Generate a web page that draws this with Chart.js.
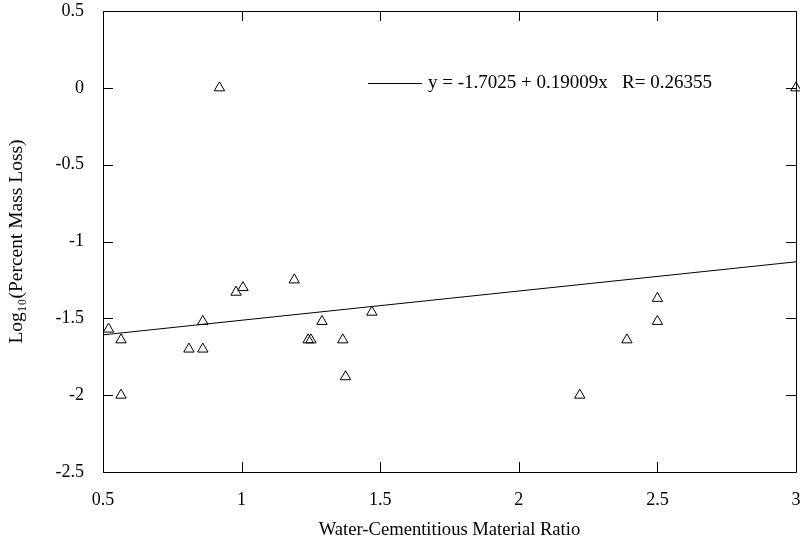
<!DOCTYPE html>
<html>
<head>
<meta charset="utf-8">
<script src="https://cdn.jsdelivr.net/npm/chart.js@4/dist/chart.umd.min.js"></script>
<style>
    html, body { margin: 0; padding: 0; background: #fff; }
    #wrap { width: 800px; height: 542px; }
</style>
</head>
<body>
<div id="wrap"><canvas id="grafico"></canvas></div>
<script>
// Dados
const ratioX = [0.52, 0.565, 0.565, 0.81, 0.86, 0.86, 0.92, 0.98, 1.005, 1.19, 1.24, 1.25, 1.29, 1.365, 1.375, 1.47, 2.22, 2.39, 2.50, 2.50, 3.0];
const logLoss = [-1.57, -1.64, -2.0, -1.70, -1.70, -1.52, 0.0, -1.33, -1.30, -1.25, -1.64, -1.64, -1.52, -1.64, -1.88, -1.46, -2.0, -1.64, -1.52, -1.37, 0.0];
const fitX = [0.5, 3.0];
const fitY = [-1.6075, -1.1322];
const xTicks = [0.5, 1, 1.5, 2, 2.5, 3];
const yTicks = [0.5, 0, -0.5, -1, -1.5, -2, -2.5];
const fitLabel = 'y = -1.7025 + 0.19009x   R= 0.26355';

const serif = "'Liberation Serif', 'Times New Roman', serif";

// Moldura com ticks para dentro + legenda da reta
const moldura = {
    id: 'moldura',
    afterDatasetsDraw(chart) {
        const { ctx, chartArea: a, scales } = chart;
        const tl = 10;
        ctx.save();
        ctx.strokeStyle = '#000';
        ctx.lineWidth = 1;
        ctx.beginPath();
        ctx.rect(Math.round(a.left) + 0.5, Math.round(a.top) + 0.5, Math.round(a.right - a.left), Math.round(a.bottom - a.top));
        xTicks.forEach(v => {
            let px = Math.round(scales.x.getPixelForValue(v)) + 0.5;
            ctx.moveTo(px, a.bottom); ctx.lineTo(px, a.bottom - tl);
            ctx.moveTo(px, a.top); ctx.lineTo(px, a.top + tl);
        });
        yTicks.forEach(v => {
            let py = Math.round(scales.y.getPixelForValue(v)) + 0.5;
            ctx.moveTo(a.left, py); ctx.lineTo(a.left + tl, py);
            ctx.moveTo(a.right, py); ctx.lineTo(a.right - tl, py);
        });
        ctx.stroke();

        // legenda
        let lx = scales.x.getPixelForValue(1.456);
        let ly = scales.y.getPixelForValue(0.029);
        ctx.beginPath();
        ctx.moveTo(lx, Math.round(ly) + 0.5);
        ctx.lineTo(lx + 54, Math.round(ly) + 0.5);
        ctx.stroke();
        ctx.fillStyle = '#000';
        ctx.font = '19px ' + serif;
        ctx.textBaseline = 'middle';
        ctx.textAlign = 'left';
        ctx.fillText(fitLabel, lx + 60, ly);
        ctx.restore();
    }
};

let grafico = new Chart(document.getElementById('grafico'), {
    type: 'scatter',
    data: {
        datasets: [
            {
                label: 'Dados',
                data: ratioX.map((x, i) => ({ x: x, y: logLoss[i] })),
                pointStyle: 'triangle',
                pointRadius: 6,
                pointBorderWidth: 1,
                borderColor: '#000',
                backgroundColor: 'rgba(0,0,0,0)',
                clip: false
            },
            {
                label: fitLabel,
                type: 'line',
                data: fitX.map((x, i) => ({ x: x, y: fitY[i] })),
                borderColor: '#000',
                borderWidth: 1,
                pointRadius: 0,
                fill: false
            }
        ]
    },
    options: {
        responsive: true,
        maintainAspectRatio: false,
        animation: false,
        layout: {
            autoPadding: false,
            padding: { top: 11, right: 4, left: 0, bottom: 0 }
        },
        plugins: {
            legend: { display: false },
            tooltip: { enabled: false }
        },
        scales: {
            x: {
                type: 'linear',
                min: 0.5,
                max: 3,
                afterBuildTicks: s => { s.ticks = xTicks.map(v => ({ value: v })); },
                afterFit: s => {
                    s.height = 70;
                    s.paddingLeft = 0; s.paddingRight = 0;
                    s.paddingTop = 0; s.paddingBottom = 0;
                },
                grid: { display: false, drawTicks: false },
                border: { display: false },
                ticks: {
                    color: '#000',
                    padding: 17,
                    maxRotation: 0,
                    callback: v => String(v),
                    font: { family: serif, size: 18 }
                },
                title: {
                    display: true,
                    text: 'Water-Cementitious Material Ratio',
                    color: '#000',
                    padding: { top: 0, bottom: 1 },
                    font: { family: serif, size: 18.6 }
                }
            },
            y: {
                type: 'linear',
                min: -2.5,
                max: 0.5,
                afterBuildTicks: s => { s.ticks = yTicks.map(v => ({ value: v })); },
                afterFit: s => {
                    s.width = 103;
                    s.paddingLeft = 0; s.paddingRight = 0;
                    s.paddingTop = 0; s.paddingBottom = 0;
                },
                grid: { display: false, drawTicks: false },
                border: { display: false },
                ticks: {
                    color: '#000',
                    padding: 19,
                    callback: v => String(v),
                    font: { family: serif, size: 18 }
                },
                title: {
                    display: true,
                    text: 'Log\u2081\u2080(Percent Mass Loss)',
                    color: '#000',
                    padding: { top: 5, bottom: 0 },
                    font: { family: serif, size: 19.5 }
                }
            }
        }
    },
    plugins: [moldura]
});
</script>
</body>
</html>
